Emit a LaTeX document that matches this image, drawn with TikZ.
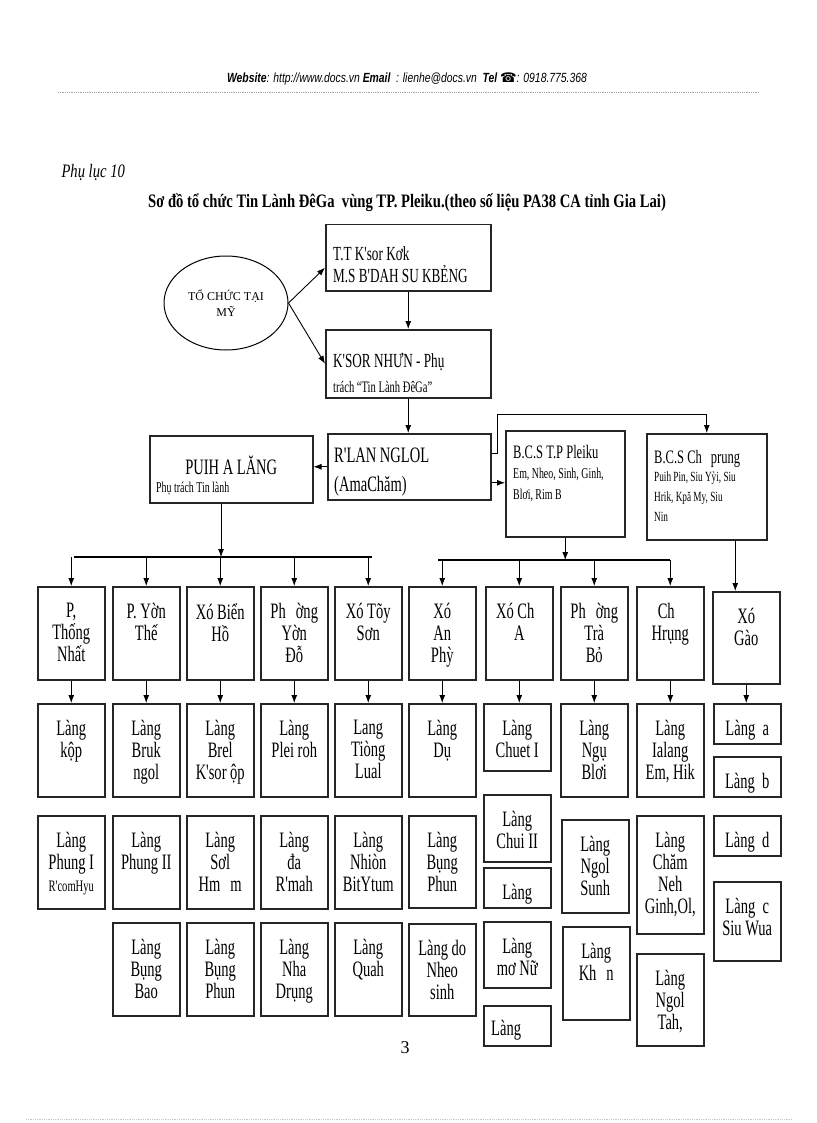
\documentclass[tikz,border=0pt]{standalone}
\usepackage{fontspec}
\setmainfont{Liberation Serif}
\newfontfamily\bxf{Liberation Serif}[FakeStretch=0.66]
\newfontfamily\ttlf{Liberation Serif}[FakeStretch=0.77]
\newfontfamily\hdf{Liberation Sans}[FakeStretch=0.78]
\newfontfamily\symf{DejaVu Sans}
\usetikzlibrary{shapes.geometric,arrows.meta}

\begin{document}
\begin{tikzpicture}[x=1pt, y=-1pt,
    bx/.style={rectangle, draw=black!85, line width=1.5pt, inner sep=0pt, anchor=north west, minimum width=67, minimum height=93},
    tx/.style={anchor=north, align=center, inner sep=0pt, yshift=-17pt, font=\bxf\fontsize{22}{22}\selectfont},
    tl/.style={anchor=north west, align=left, inner sep=0pt, xshift=8pt, font=\bxf\fontsize{20}{22}\selectfont},
    arr/.style={-{Latex[length=8pt,width=6pt]}, line width=0.9pt},
    bus/.style={line width=1.2pt}
]
    \fill[white] (0,0) rectangle (816,1123);
    \useasboundingbox (0,0) rectangle (816,1123);

    % page header and footer
    \node[font=\hdf\itshape\fontsize{13.3}{15}\selectfont] (web) at (407,79) {\bfseries Website\mdseries : http://www.docs.vn \bfseries Email\mdseries\ \ : lienhe@docs.vn\ \ \bfseries Tel {\symf ☎}\mdseries : 0918.775.368};
    \draw[gray!70, densely dotted, line width=0.8pt] (58,92) -- (760,92);
    \draw[gray!45, densely dotted, line width=0.8pt] (26,1119) -- (792,1119);
    \node[font=\fontsize{18}{20}\selectfont] (pg) at (405,1048) {3};

    \node[anchor=west, font=\ttlf\itshape\fontsize{19}{20}\selectfont] (pl) at (58,172) {Phụ lục 10};
    \node[font=\ttlf\bfseries\fontsize{19}{22}\selectfont] (title) at (407,203) {Sơ đồ tổ chức Tin Lành ĐêGa\ \ vùng TP. Pleiku.(theo số liệu PA38 CA tỉnh Gia Lai)};

    % top of the chart
    \node[draw, ellipse, line width=1pt, minimum width=124, minimum height=94, align=center, font=\fontsize{12}{16}\selectfont] (ell) at (226,303) {TỔ CHỨC TẠI\\MỸ};
    \node[bx, minimum width=165, minimum height=66, label={[tl, yshift=-22pt]north west:{T.T K'sor Kơk\\M.S B'DAH SU KBẺNG}}] (tt) at (325,224) {};
    \node[bx, minimum width=165, minimum height=68, label={[tl, yshift=-24pt]north west:{K'SOR NHƯN - Phụ}}, label={[tl, yshift=-52pt, font=\bxf\fontsize{16}{16}\selectfont]north west:{trách “Tin Lành ĐêGa”}}] (ks) at (325,329) {};
    \node[bx, minimum width=163, minimum height=66, label={[tl, xshift=-1pt, yshift=-15pt, font=\bxf\fontsize{22}{29}\selectfont]north west:{R'LAN NGLOL\\(AmaChăm)}}] (rl) at (327,433) {};
    \node[bx, minimum width=163, minimum height=67, label={[tx, yshift=-4pt]north:{PUIH A LĂNG}}, label={[tl, xshift=-1pt, yshift=-47pt, font=\bxf\fontsize{15}{15}\selectfont]north west:{Phụ trách Tin lành}}] (pu) at (149,435) {};
    \node[bx, minimum width=119, minimum height=106, label={[tl, yshift=-15pt, font=\bxf\fontsize{19}{22}\selectfont]north west:{B.C.S T.P Pleiku}}, label={[tl, yshift=-38pt, font=\bxf\fontsize{15}{21}\selectfont]north west:{Em, Nheo, Sinh, Ginh,\\Blơi, Rim B}}] (bt) at (505,430) {};
    \node[bx, minimum width=120, minimum height=106, label={[tl, yshift=-17pt, font=\bxf\fontsize{19}{22}\selectfont]north west:{B.C.S Ch\hspace*{9pt}prung}}, label={[tl, yshift=-39pt, font=\bxf\fontsize{14}{20}\selectfont]north west:{Puih Pin, Siu Yỳi, Siu\\Hrik, Kpă My, Siu\\Nin}}] (cp) at (646,433) {};

    % phuong / xa
    \node[bx, label={[tx]north:{P,\\Thống\\Nhất}}] (p1) at (37,586) {};
    \node[bx, label={[tx]north:{P. Yờn\\Thế}}] (p2) at (112,586) {};
    \node[bx, label={[tx]north:{Xó Biển\\Hồ}}] (p3) at (186,586) {};
    \node[bx, label={[tx]north:{Ph\hspace*{10pt}ờng\\Yờn\\Đỗ}}] (p4) at (260,586) {};
    \node[bx, label={[tx]north:{Xó Tõy\\Sơn}}] (p5) at (334,586) {};
    \node[bx, label={[tx]north:{Xó\\An\\Phỳ}}] (p6) at (408,586) {};
    \node[bx, label={[tx]north:{Xó Ch\hspace*{8pt}\\A}}] (p7) at (485,586) {};
    \node[bx, label={[tx]north:{Ph\hspace*{10pt}ờng\\Trà\\Bỏ}}] (p8) at (560,586) {};
    \node[bx, label={[tx]north:{Ch\hspace*{8pt}\\Hrụng}}] (p9) at (636,586) {};
    \node[bx, minimum height=92, label={[tx]north:{Xó\\Gào}}] (p10) at (712,591) {};

    % lang, first row
    \node[bx, label={[tx]north:{Làng\\kộp}}] (l1) at (37,703) {};
    \node[bx, label={[tx]north:{Làng\\Bruk\\ngol}}] (l2) at (112,703) {};
    \node[bx, label={[tx]north:{Làng\\Brel\\K'sor ộp}}] (l3) at (186,703) {};
    \node[bx, label={[tx]north:{Làng\\Plei roh}}] (l4) at (260,703) {};
    \node[bx, label={[tx]north:{Lang\\Tiòng\\Lual}}] (l5) at (334,703) {};
    \node[bx, label={[tx]north:{Làng\\Dụ}}] (l6) at (408,703) {};
    \node[bx, minimum height=67, label={[tx]north:{Làng\\Chuet I}}] (l7) at (483,703) {};
    \node[bx, label={[tx]north:{Làng\\Ngụ\\Blơi}}] (l8) at (560,703) {};
    \node[bx, label={[tx]north:{Làng\\Ialang\\Em, Hik}}] (l9) at (636,703) {};
    \node[bx, minimum height=40, label={[tx]north:{Làng\ \ a}}] (l10a) at (713,703) {};
    \node[bx, minimum height=40, label={[tx]north:{Làng\ \ b}}] (l10b) at (713,756) {};

    % lang, second row
    \node[bx, label={[tx]north:{Làng\\Phung I\\{\fontsize{16}{16}\selectfont R'comHyu}}}] (m1) at (37,815) {};
    \node[bx, label={[tx]north:{Làng\\Phung II}}] (m2) at (112,815) {};
    \node[bx, label={[tx]north:{Làng\\Sơl\\Hm\hspace*{10pt}m}}] (m3) at (186,815) {};
    \node[bx, label={[tx]north:{Làng\\đa\\R'mah}}] (m4) at (260,815) {};
    \node[bx, label={[tx]north:{Làng\\Nhiòn\\BitYtum}}] (m5) at (334,815) {};
    \node[bx, minimum height=92, label={[tx]north:{Làng\\Bụng\\Phun}}] (m6) at (408,815) {};
    \node[bx, minimum height=67, label={[tx]north:{Làng\\Chui II}}] (m7a) at (483,794) {};
    \node[bx, minimum height=40, label={[tx]north:{Làng}}] (m7b) at (483,867) {};
    \node[bx, label={[tx]north:{Làng\\Ngol\\Sunh}}] (m8) at (561,819) {};
    \node[bx, minimum height=118, label={[tx]north:{Làng\\Chăm\\Neh\\Ginh,Ol,}}] (m9) at (636,815) {};
    \node[bx, minimum height=40, label={[tx]north:{Làng\ \ d}}] (m10a) at (713,815) {};
    \node[bx, minimum height=79, label={[tx]north:{Làng\ \ c\\Siu Wua}}] (m10b) at (713,881) {};

    % lang, third row
    \node[bx, label={[tx]north:{Làng\\Bụng\\Bao}}] (n2) at (112,922) {};
    \node[bx, label={[tx]north:{Làng\\Bụng\\Phun}}] (n3) at (186,922) {};
    \node[bx, label={[tx]north:{Làng\\Nha\\Drụng}}] (n4) at (260,922) {};
    \node[bx, label={[tx]north:{Làng\\Quah}}] (n5) at (334,922) {};
    \node[bx, minimum height=92, label={[tx]north:{Làng do\\Nheo\\sinh}}] (n6) at (408,923) {};
    \node[bx, minimum height=66, label={[tx]north:{Làng\\mơ Nữ}}] (n7a) at (483,921) {};
    \node[bx, minimum height=40, label={[tl, yshift=-15pt, font=\bxf\fontsize{22}{22}\selectfont]north west:{Làng}}] (n7b) at (483,1005) {};
    \node[bx, label={[tx]north:{Làng\\Kh\hspace*{10pt}n}}] (n8) at (562,926) {};
    \node[bx, minimum height=92, label={[tx]north:{Làng\\Ngol\\Tah,}}] (n9) at (636,953) {};

    % connectors, top
    \draw[arr] (ell.east) -- ([yshift=-10pt]tt.west);
    \draw[arr] (ell.east) -- (ks.west);
    \draw[arr] (tt.south) -- (ks.north);
    \draw[arr] (ks.south) -- (ks.south |- rl.north);
    \draw[arr] (rl.west) -- (rl.west -| pu.east);
    \coordinate (rlb) at ([yshift=-16pt]rl.east);
    \draw[arr] (rlb) -- (rlb -| bt.west);
    \coordinate (jog) at (497,414);
    \draw[arr] ([yshift=13pt]rl.east) -| (jog) -| (cp.north);

    % buses
    \coordinate (busl) at (221,557);
    \draw[arr] (pu.south -| busl) -- (busl);
    \draw[bus] ([xshift=3pt]p1.north |- busl) -- ([xshift=4pt]p5.north |- busl);
    \foreach \c in {p1,p2,p3,p4,p5}
        \draw[arr] (\c.north |- busl) -- (\c.north);
    \coordinate (busr) at (564,560);
    \draw[arr] (bt.south) -- (bt.south |- busr);
    \draw[bus] ([xshift=-4pt]p6.north |- busr) -- (p9.north |- busr);
    \foreach \c in {p6,p7,p8,p9}
        \draw[arr] (\c.north |- busr) -- (\c.north);
    \coordinate (xgin) at ([xshift=-11pt]p10.north);
    \draw[arr] (cp.south -| xgin) -- (xgin);

    % phuong to lang
    \foreach \a/\b in {p1/l1,p2/l2,p3/l3,p4/l4,p5/l5,p6/l6,p7/l7,p8/l8,p9/l9,p10/l10a}
        \draw[arr] (\a.south) -- (\a.south |- \b.north);
\end{tikzpicture}
\end{document}
